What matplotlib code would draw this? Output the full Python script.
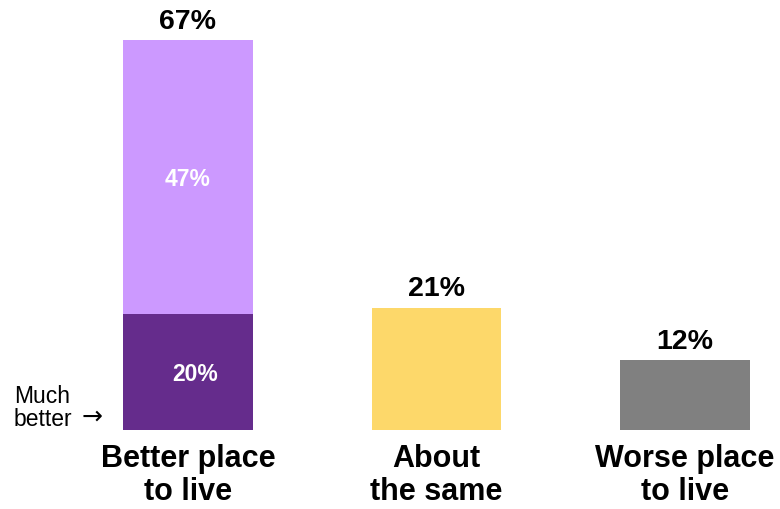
import matplotlib
matplotlib.use("Agg")
import matplotlib.pyplot as plt

categories = ["Better place\nto live", "About\nthe same", "Worse place\nto live"]
totals = [67, 21, 12]
much_better = 20
somewhat_better = 47
total_labels = ["67%", "21%", "12%"]

plt.rcParams['font.family'] = ['Liberation Sans', 'DejaVu Sans']

fig = plt.figure(figsize=(7.8, 5.09), dpi=100)
ax = fig.add_axes([0, (509 - 430) / 509, 1, 430 / 509])

x = [0, 1, 2]
w = 0.523
light = "#CC99FF"
dark = "#652C8C"
yellow = "#FDD86A"
gray = "#808080"

ax.bar(0, much_better, width=w, color=dark)
ax.bar(0, somewhat_better, bottom=much_better, width=w, color=light)
ax.bar(1, totals[1], width=w, color=yellow)
ax.bar(2, totals[2], width=w, color=gray)

ax.set_xlim(-188 / 248.5, (780 - 188) / 248.5)
ax.set_ylim(0, 430 / 5.82)
ax.axis("off")

for xi, t, lab in zip(x, totals, total_labels):
    ax.annotate(lab, (xi, t), xytext=(0, 4), textcoords="offset points",
                ha="center", va="bottom", fontsize=20.5, fontweight="bold", color="black")

ax.annotate(f"{much_better}%", (0.03, much_better / 2), xytext=(0, -2),
            textcoords="offset points", ha="center", va="center",
            fontsize=16.5, fontweight="bold", color="white")
ax.annotate(f"{somewhat_better}%", (0, much_better + somewhat_better / 2), xytext=(0, -2),
            textcoords="offset points", ha="center", va="center",
            fontsize=16.5, fontweight="bold", color="white")

for xi, c in zip(x, categories):
    ax.annotate(c, (xi, 0), xytext=(0, -10), textcoords="offset points",
                ha="center", va="top", fontsize=22, fontweight="bold",
                linespacing=1.12, annotation_clip=False)

fig.text(14 / 780, 1 - 408 / 509, "Much\nbetter", ha="left", va="center",
         fontsize=16.5, linespacing=0.95)
fig.text(82 / 780, 1 - 417 / 509, "\u2192", ha="left", va="center",
         fontsize=18, family=['DejaVu Sans'])

fig.savefig("out.png", dpi=100)
